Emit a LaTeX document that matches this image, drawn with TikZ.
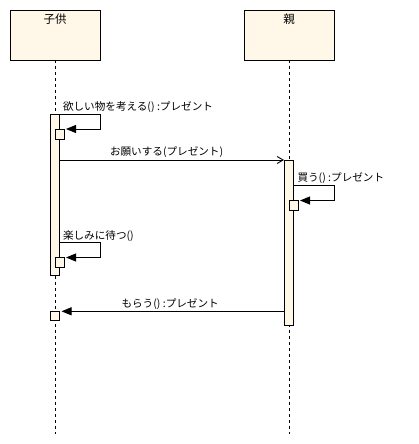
\documentclass[tikz,border=0pt]{standalone}
\usepackage{fontspec}
\setmainfont{Noto Sans CJK JP}
\usetikzlibrary{arrows.meta}
\definecolor{lifefill}{RGB}{255,248,232}
\begin{document}
\begin{tikzpicture}[x=1pt,y=-1pt,
  every node/.style={inner sep=0pt, outer sep=0pt},
  actor/.style={draw, fill=lifefill, line width=0.9pt, minimum width=90pt, minimum height=50pt, anchor=north west},
  actbar/.style={draw, fill=lifefill, line width=0.9pt, minimum width=9pt, anchor=north west},
  lifeline/.style={line width=0.8pt, dash pattern=on 3pt off 3pt},
  msg/.style={line width=0.9pt},
  sync/.style={msg, -{Triangle[length=10pt,width=8pt]}, shorten >=2pt},
  async/.style={msg, -{Straight Barb[length=6pt,width=7pt]}},
  lbl/.style={anchor=base west, font=\fontsize{10.6}{12}\selectfont},
  title/.style={anchor=base, font=\fontsize{11.5}{13}\selectfont}
]
\useasboundingbox (0,0) rectangle (419,444);

% actors
\node[actor] (child) at (10,10) {};
\node[actor] (parent) at (244,10) {};
\node[title] (childname) at (55,23.5) {子供};
\node[title] (parentname) at (289,23.5) {親};

% lifeline ends
\coordinate (childend) at (55,434);
\coordinate (parentend) at (289,434);
\draw[lifeline] (child.south) -- (childend);
\draw[lifeline] (parent.south) -- (parentend);

% activations
\node[actbar, minimum height=161pt] (cact) at (50,114) {};
\node[actbar, minimum height=165pt] (pact) at (284,160) {};
\node[actbar, minimum height=10pt] (cb1) at (55,129) {};
\node[actbar, minimum height=10pt] (cb2) at (55,257.5) {};
\node[actbar, minimum height=9pt] (cb3) at (50,311.3) {};
\node[actbar, minimum height=10pt] (pb1) at (289,200.5) {};

% message 1 (self)
\coordinate (m1a) at (100,114);
\coordinate (m1b) at (100,129);
\draw[sync] (cact.north east) -- (m1a) -- (m1b) -- (cb1.north east);
\node[lbl] (l1) at (63,110.5) {欲しい物を考える() :プレゼント};

% message 2
\coordinate (m2s) at (59,160);
\draw[async] (m2s) -- (pact.north west);
\node[lbl] (l2) at (110,155.5) {お願いする(プレゼント)};

% message 3 (self on parent)
\coordinate (m3s) at (293,185.7);
\coordinate (m3a) at (334,185.7);
\coordinate (m3b) at (334,200.5);
\draw[sync] (m3s) -- (m3a) -- (m3b) -- (pb1.north east);
\node[lbl] (l3) at (297.5,181) {買う() :プレゼント};

% message 4 (self)
\coordinate (m4s) at (59,242.7);
\coordinate (m4a) at (100,242.7);
\coordinate (m4b) at (100,257.5);
\draw[sync] (m4s) -- (m4a) -- (m4b) -- (cb2.north east);
\node[lbl] (l4) at (63,239) {楽しみに待つ()};

% message 5
\coordinate (m5s) at (284,311.3);
\draw[sync, shorten >=2.5pt] (m5s) -- (cb3.north east);
\node[lbl] (l5) at (121.5,307) {もらう() :プレゼント};
\end{tikzpicture}
\end{document}
